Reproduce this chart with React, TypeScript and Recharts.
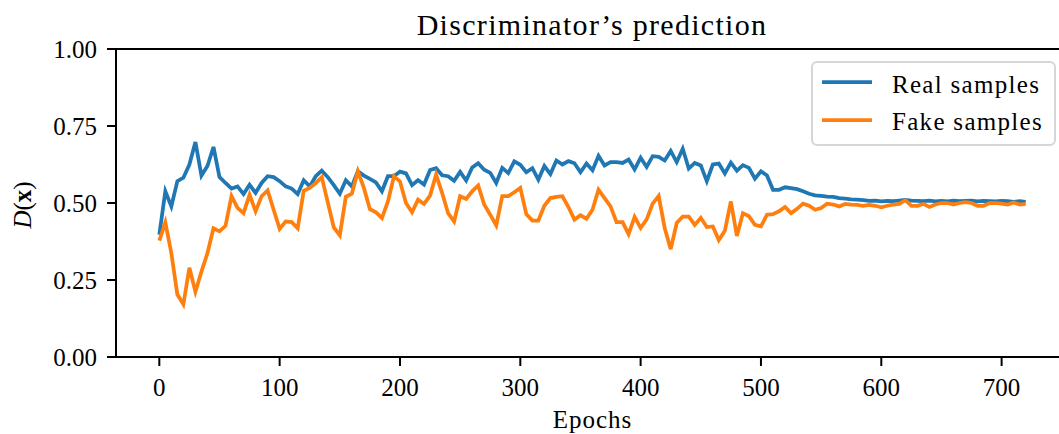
import React from "react";
import { LineChart, Line, XAxis, YAxis, ReferenceLine, Customized } from "recharts";

// epochs at which the discriminator was evaluated
const epochs = [
  0, 5, 10, 15, 20, 25, 30, 35, 40, 45,
  50, 55, 60, 65, 70, 75, 80, 85, 90, 95,
  100, 105, 110, 115, 120, 125, 130, 135, 140, 145,
  150, 155, 160, 165, 170, 175, 180, 185, 190, 195,
  200, 205, 210, 215, 220, 225, 230, 235, 240, 245,
  250, 255, 260, 265, 270, 275, 280, 285, 290, 295,
  300, 305, 310, 315, 320, 325, 330, 335, 340, 345,
  350, 355, 360, 365, 370, 375, 380, 385, 390, 395,
  400, 405, 410, 415, 420, 425, 430, 435, 440, 445,
  450, 455, 460, 465, 470, 475, 480, 485, 490, 495,
  500, 505, 510, 515, 520, 525, 530, 535, 540, 545,
  550, 555, 560, 565, 570, 575, 580, 585, 590, 595,
  600, 605, 610, 615, 620, 625, 630, 635, 640, 645,
  650, 655, 660, 665, 670, 675, 680, 685, 690, 695,
  700, 705, 710, 715, 720,
];

const realSamples = [
  0.397, 0.538, 0.489, 0.571, 0.582, 0.625, 0.698, 0.589, 0.620, 0.682,
  0.584, 0.565, 0.547, 0.554, 0.529, 0.559, 0.533, 0.565, 0.587, 0.584,
  0.571, 0.554, 0.547, 0.529, 0.574, 0.554, 0.587, 0.605, 0.584, 0.558,
  0.530, 0.574, 0.554, 0.603, 0.589, 0.578, 0.567, 0.538, 0.587, 0.587,
  0.602, 0.596, 0.558, 0.574, 0.560, 0.607, 0.613, 0.590, 0.587, 0.572,
  0.601, 0.573, 0.615, 0.629, 0.608, 0.598, 0.565, 0.614, 0.597, 0.635,
  0.624, 0.600, 0.613, 0.576, 0.620, 0.594, 0.638, 0.625, 0.636, 0.629,
  0.600, 0.628, 0.606, 0.653, 0.622, 0.633, 0.633, 0.630, 0.641, 0.609,
  0.647, 0.617, 0.652, 0.650, 0.638, 0.669, 0.633, 0.676, 0.612, 0.630,
  0.622, 0.571, 0.625, 0.628, 0.596, 0.631, 0.605, 0.623, 0.614, 0.579,
  0.603, 0.589, 0.543, 0.543, 0.551, 0.548, 0.545, 0.538, 0.530, 0.525,
  0.523, 0.521, 0.520, 0.516, 0.514, 0.512, 0.511, 0.509, 0.507, 0.508,
  0.505, 0.507, 0.506, 0.508, 0.510, 0.508, 0.507, 0.506, 0.508, 0.505,
  0.507, 0.505, 0.508, 0.506, 0.507, 0.508, 0.505, 0.507, 0.506, 0.505,
  0.507, 0.506, 0.504, 0.506, 0.504,
];

const fakeSamples = [
  0.378, 0.437, 0.337, 0.203, 0.171, 0.290, 0.212, 0.277, 0.337, 0.418,
  0.408, 0.426, 0.522, 0.484, 0.467, 0.527, 0.473, 0.522, 0.541, 0.478,
  0.416, 0.440, 0.438, 0.418, 0.540, 0.549, 0.565, 0.584, 0.502, 0.421,
  0.395, 0.520, 0.530, 0.603, 0.549, 0.480, 0.470, 0.451, 0.505, 0.587,
  0.570, 0.500, 0.470, 0.511, 0.497, 0.524, 0.592, 0.533, 0.467, 0.440,
  0.522, 0.513, 0.538, 0.557, 0.495, 0.462, 0.427, 0.522, 0.522, 0.535,
  0.549, 0.464, 0.443, 0.443, 0.491, 0.516, 0.520, 0.522, 0.487, 0.446,
  0.460, 0.449, 0.478, 0.543, 0.516, 0.489, 0.438, 0.438, 0.399, 0.455,
  0.419, 0.447, 0.498, 0.523, 0.419, 0.350, 0.435, 0.456, 0.456, 0.429,
  0.452, 0.422, 0.424, 0.380, 0.410, 0.505, 0.393, 0.467, 0.457, 0.429,
  0.424, 0.462, 0.464, 0.473, 0.487, 0.467, 0.481, 0.498, 0.491, 0.478,
  0.484, 0.498, 0.495, 0.489, 0.497, 0.495, 0.494, 0.491, 0.494, 0.491,
  0.486, 0.491, 0.495, 0.497, 0.509, 0.491, 0.491, 0.497, 0.487, 0.495,
  0.500, 0.500, 0.495, 0.500, 0.503, 0.500, 0.491, 0.491, 0.500, 0.500,
  0.498, 0.495, 0.502, 0.495, 0.497,
];

const xTicks = [0, 100, 200, 300, 400, 500, 600, 700];
const yTicks = [0, 0.25, 0.5, 0.75, 1];

const BLUE = "#1f77b4";
const ORANGE = "#ff7f0e";
const FONT = "'Liberation Serif', 'Times New Roman', serif";

const data = epochs.map((epoch, i) => ({
  epoch,
  real: realSamples[i],
  fake: fakeSamples[i],
}));

const tickStyle = { fill: "#000", fontSize: 25, fontFamily: FONT };

// legend box, drawn in the upper right corner of the axes like matplotlib's
const LegendBox = () => (
  <g transform="translate(811 61)">
    <rect x={1} y={1} width={243} height={83} rx={5} fill="#fff" fillOpacity={0.8} stroke="#cccccc" strokeOpacity={0.8} strokeWidth={2} />
    <line x1={11} x2={61} y1={21} y2={21} stroke={BLUE} strokeWidth={3.75} />
    <text x={81} y={32} fontFamily={FONT} fontSize={25} letterSpacing={1.3} fill="#000">Real samples</text>
    <line x1={11} x2={61} y1={59} y2={59} stroke={ORANGE} strokeWidth={3.75} />
    <text x={81} y={69} fontFamily={FONT} fontSize={25} letterSpacing={1.3} fill="#000">Fake samples</text>
  </g>
);

const YLabel = () => (
  <text
    x={31}
    y={205}
    transform="rotate(-90 31 205)"
    textAnchor="middle"
    fontFamily={FONT}
    fontSize={25}
    fill="#000"
  >
    <tspan fontStyle="italic">D</tspan>
    <tspan>(</tspan>
    <tspan fontWeight="bold">x</tspan>
    <tspan>)</tspan>
  </text>
);

const Title = () => (
  <text x={592} y={35} textAnchor="middle" fontFamily={FONT} fontSize={30} letterSpacing={1.3} fill="#000">
    Discriminator’s prediction
  </text>
);

export default function App() {
  return (
    <div style={{ position: "absolute", left: 0, top: 0, width: 1059, height: 434, overflow: "hidden", background: "#fff" }}>
      <LineChart width={1080} height={434} data={data} margin={{ top: 49, right: 11, bottom: 0, left: 0 }}>
        <XAxis
          dataKey="epoch"
          type="number"
          domain={[-36, 756]}
          allowDataOverflow
          ticks={xTicks}
          height={77}
          tickSize={9}
          tickMargin={12}
          axisLine={{ stroke: "#000", strokeWidth: 2 }}
          tickLine={{ stroke: "#000", strokeWidth: 2 }}
          tick={tickStyle}
          label={{ value: "Epochs", position: "insideBottom", offset: 6, fill: "#000", fontSize: 25, fontFamily: FONT, letterSpacing: 1 }}
        />
        <YAxis
          type="number"
          domain={[0, 1]}
          ticks={yTicks}
          width={116}
          tickSize={9}
          tickMargin={10}
          tickFormatter={(v: number) => v.toFixed(2)}
          axisLine={{ stroke: "#000", strokeWidth: 2 }}
          tickLine={{ stroke: "#000", strokeWidth: 2 }}
          tick={tickStyle}
        />
        <ReferenceLine y={1} stroke="#000" strokeWidth={2} />
        <ReferenceLine x={756} stroke="#000" strokeWidth={2} />
        <Line type="linear" dataKey="real" name="Real samples" stroke={BLUE} strokeWidth={3.75} dot={false} isAnimationActive={false} />
        <Line type="linear" dataKey="fake" name="Fake samples" stroke={ORANGE} strokeWidth={3.75} dot={false} isAnimationActive={false} />
        <Customized component={LegendBox} />
        <Customized component={Title} />
        <Customized component={YLabel} />
      </LineChart>
    </div>
  );
}
